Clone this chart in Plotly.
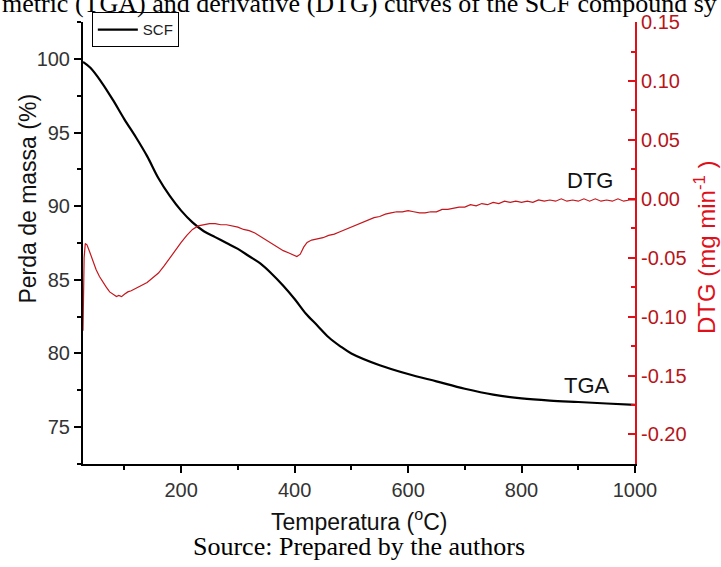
import plotly.graph_objects as go

# TGA curve (mass loss %)
tga_temp = [27, 40, 60, 80, 100, 120, 140, 160, 180, 200, 220, 240, 260, 280, 300, 320,
            340, 360, 380, 400, 420, 440, 460, 480, 500, 550, 600, 650, 700, 750, 800,
            850, 900, 950, 1000]
tga_mass = [99.8, 99.4, 98.4, 97.2, 95.9, 94.7, 93.4, 91.9, 90.7, 89.7, 88.9, 88.3, 87.9,
            87.5, 87.1, 86.6, 86.1, 85.4, 84.6, 83.7, 82.7, 81.9, 81.1, 80.5, 80.0, 79.2,
            78.6, 78.1, 77.6, 77.2, 76.95, 76.8, 76.7, 76.6, 76.5]

# DTG curve (mg/min)
dtg_temp = [27, 28, 29, 31, 34, 38, 44, 50, 56, 62, 68, 74, 80, 86, 90, 95, 100, 106, 112,
            120, 130, 140, 150, 160, 170, 180, 190, 200, 210, 220, 230, 240, 250, 260, 270,
            280, 290, 300, 310, 320, 330, 340, 350, 360, 370, 380, 390, 398, 404, 410, 416,
            422, 430, 440, 450, 460, 470, 480, 490, 500, 510, 520, 530, 540, 550, 560, 570,
            580, 590, 600, 610, 620, 630, 640, 650, 660, 670, 680, 690, 700, 710, 720, 730,
            740, 750, 760, 770, 780, 790, 800, 810, 820, 830, 840, 850, 860, 870, 880, 890,
            900, 910, 920, 930, 940, 950, 960, 970, 980, 990, 1000]
dtg_vals = [-0.112, -0.080, -0.050, -0.038, -0.039, -0.044, -0.052, -0.060, -0.066, -0.071,
            -0.075, -0.079, -0.081, -0.083, -0.082, -0.083, -0.081, -0.079, -0.078, -0.076,
            -0.074, -0.071, -0.067, -0.063, -0.057, -0.050, -0.044, -0.037, -0.031, -0.026,
            -0.023, -0.022, -0.021, -0.021, -0.022, -0.022, -0.023, -0.024, -0.026, -0.027,
            -0.029, -0.032, -0.035, -0.038, -0.041, -0.044, -0.046, -0.048, -0.049, -0.047,
            -0.041, -0.037, -0.035, -0.034, -0.033, -0.031, -0.030, -0.028, -0.026, -0.024,
            -0.022, -0.020, -0.018, -0.016, -0.015, -0.013, -0.012, -0.011, -0.011, -0.010,
            -0.011, -0.012, -0.012, -0.011, -0.011, -0.009, -0.009, -0.008, -0.007, -0.007,
            -0.005, -0.006, -0.004, -0.005, -0.003, -0.004, -0.002, -0.003, -0.002, -0.003,
            -0.002, -0.003, -0.001, -0.002, -0.001, -0.002, 0.000, -0.002, -0.001, -0.002,
            0.000, -0.002, 0.000, -0.002, -0.001, -0.002, 0.000, -0.002, -0.001, -0.001]

RED = "#e0101a"
CURVE_RED = "#c4161c"
FONT = "Liberation Sans, Arial"
SERIF = "Liberation Serif, Times New Roman"

fig = go.Figure()
fig.add_trace(go.Scatter(x=dtg_temp, y=dtg_vals, mode="lines", yaxis="y2",
                         line=dict(color=CURVE_RED, width=1.2), showlegend=False, name="DTG"))
fig.add_trace(go.Scatter(x=tga_temp, y=tga_mass, mode="lines", line_shape="spline",
                         line=dict(color="black", width=2.2), name="SCF"))

tickfont = dict(family=FONT, size=20, color="#333333")

fig.update_layout(
    width=721, height=567,
    margin=dict(l=83, r=86, t=17, b=103),
    paper_bgcolor="white", plot_bgcolor="white",
    xaxis=dict(range=[27, 1000], tickvals=[200, 400, 600, 800, 1000], showline=True,
               linecolor="black", linewidth=2, ticks="outside", ticklen=7, tickwidth=1.5,
               tickcolor="black", showgrid=False, zeroline=False, tickfont=tickfont,
               minor=dict(tickvals=[100, 300, 500, 700, 900], ticks="outside", ticklen=4,
                          tickcolor="black", tickwidth=1.5)),
    yaxis=dict(range=[72.49, 102.51], tickvals=[75, 80, 85, 90, 95, 100], showline=True,
               linecolor="black", linewidth=2, ticks="outside", ticklen=7, tickwidth=1.5,
               tickcolor="black", showgrid=False, zeroline=False, tickfont=tickfont,
               minor=dict(tickvals=[72.5, 77.5, 82.5, 87.5, 92.5, 97.5, 102.5], ticks="outside",
                          ticklen=4, tickcolor="black", tickwidth=1.5)),
    yaxis2=dict(range=[-0.2251, 0.1501], overlaying="y", side="right", anchor="x",
                tickvals=[-0.20, -0.15, -0.10, -0.05, 0.0, 0.05, 0.10, 0.15],
                ticktext=["-0.20", "-0.15", "-0.10", "-0.05", "0.00", "0.05", "0.10", "0.15"],
                showline=True, linecolor=RED, linewidth=2, ticks="inside", ticklen=7,
                tickwidth=1.5, tickcolor=RED, showgrid=False, zeroline=False,
                tickfont=dict(family=FONT, size=20, color="#b8141a"),
                minor=dict(tickvals=[-0.175, -0.125, -0.075, -0.025, 0.025, 0.075, 0.125],
                           ticks="inside", ticklen=4, tickcolor=RED, tickwidth=1.5)),
    legend=dict(x=0.016, y=1.022, xanchor="left", yanchor="top", bgcolor="white",
                bordercolor="black", borderwidth=1,
                font=dict(family=FONT, size=15, color="#222222"),
                itemwidth=40, tracegroupgap=0),
    showlegend=True,
)

annots = [
    dict(text="DTG", x=0.918, y=0.642, xref="paper", yref="paper", showarrow=False,
         xanchor="center", yanchor="middle",
         font=dict(family=FONT, size=22, color="#111111")),
    dict(text="TGA", x=0.913, y=0.177, xref="paper", yref="paper", showarrow=False,
         xanchor="center", yanchor="middle",
         font=dict(family=FONT, size=22, color="#111111")),
    dict(text="Temperatura (<sup>o</sup>C)", x=0.5, y=-0.126, xref="paper", yref="paper",
         showarrow=False, xanchor="center", yanchor="middle",
         font=dict(family=FONT, size=23, color="#111111")),
    dict(text="Perda de massa (%)", x=-0.1, y=0.6, xref="paper", yref="paper",
         showarrow=False, textangle=-90, xanchor="center", yanchor="middle",
         font=dict(family=FONT, size=23, color="#111111")),
    dict(text="DTG (mg min<sup>-1</sup> )", x=1.128, y=0.49, xref="paper", yref="paper",
         showarrow=False, textangle=-90, xanchor="center", yanchor="middle",
         font=dict(family=FONT, size=24, color=RED)),
    dict(text="Source: Prepared by the authors", x=0.5, y=-0.186, xref="paper", yref="paper",
         showarrow=False, xanchor="center", yanchor="middle",
         font=dict(family=SERIF, size=26, color="black")),
    dict(text="metric (TGA) and derivative (DTG) curves of the SCF compound sy",
         x=0, y=1, xref="paper", yref="paper", xanchor="left", yanchor="bottom",
         xshift=-83, yshift=2, showarrow=False,
         font=dict(family=SERIF, size=26, color="black")),
]
fig.update_layout(annotations=annots)

fig.write_html("out.html", config={"displayModeBar": False},
               post_script="document.body.style.margin='0px';")
